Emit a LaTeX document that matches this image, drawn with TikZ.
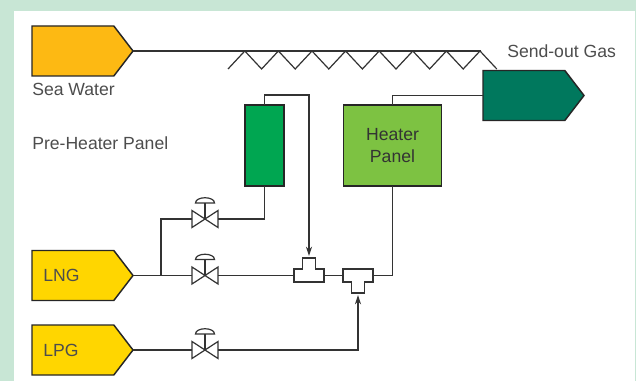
\documentclass[tikz,border=0pt]{standalone}
\usepackage{fontspec}
\setmainfont{Liberation Sans}
\usetikzlibrary{arrows.meta, positioning, shapes.symbols}
\definecolor{framegreen}{HTML}{C8E6D5}
\definecolor{seaorange}{HTML}{FDB913}
\definecolor{lngyellow}{HTML}{FFD600}
\definecolor{gasgreen}{HTML}{00785D}
\definecolor{heatgreen}{HTML}{7DC242}
\definecolor{pregreen}{HTML}{00A651}
\definecolor{inkgrey}{HTML}{333333}
\definecolor{textgrey}{HTML}{4D4D4D}
\tikzset{
    feed/.style={signal, signal to=east, signal from=nowhere, signal pointer angle=105, minimum width=75.75pt, minimum height=37.5pt, inner sep=0pt, outer sep=0pt, draw=black!85, line width=1.1pt, anchor=west},
    panel/.style={rectangle, inner sep=0pt, outer sep=0pt, minimum height=60.75pt, draw=black!85, line width=1pt},
    pipe/.style={draw=inkgrey, line width=0.9pt},
    flow/.style={pipe, -{Stealth[length=7pt, width=4.5pt]}, shorten >=1.5pt},
    caption/.style={font=\fontsize{13.2}{16.5}\selectfont, text=textgrey, inner sep=0pt, align=center},
    valve/.pic={
        \draw[pipe, fill=white] (-13,-8.5) -- (13,8.5) -- (13,-8.5) -- (-13,8.5) -- cycle;
        \draw[pipe] (0,0) -- (0,-16);
        \draw[pipe, fill=white] (-9.5,-16) .. controls (-9.5,-23) and (9.5,-23) .. (9.5,-16) -- cycle;
        \coordinate (-w) at (-13,0);
        \coordinate (-e) at (13,0);
    },
    tee/.pic={
        \draw[pipe, line width=1pt, fill=white] (-15,6.5) -- (-15,-6.5) -- (-6.5,-6.5) -- (-6.5,-17.5) -- (6.5,-17.5) -- (6.5,-6.5) -- (15,-6.5) -- (15,6.5) -- cycle;
        \coordinate (-w) at (-15,0);
        \coordinate (-e) at (15,0);
        \coordinate (-s) at (0,-17.5);
    }
}

\begin{document}
\begin{tikzpicture}[x=0.75pt, y=-0.75pt]
        % Frame
        \fill[framegreen] (0,0) rectangle (636,381);
        \fill[white] (14,11) rectangle (634.5,381);
        
        % Heat exchanger coil
        \coordinate (coilstart) at (228,69);
        \coordinate (coilend) at (481,51);
        \draw[pipe] (coilstart) \foreach \k in {0,...,7} {-- ++(16.8,-18) -- ++(16.8,18)};
        
        % Streams
        \node (sea) [feed, fill=seaorange] at (32,51) {};
        \node (gas) [feed, fill=gasgreen] at (483,95.5) {};
        \node (lng) [feed, fill=lngyellow] at (32,275.5) {};
        \node (lpg) [feed, fill=lngyellow] at (32,350) {};
        
        % Panels
        \node (pre) [panel, fill=pregreen, minimum width=29.25pt] at (264.5,145.5) {};
        \node (heater) [panel, fill=heatgreen, minimum width=73.5pt, caption, text=inkgrey] at (392.5,145.5) {Heater\\Panel};
        
        % Valves and tees
        \pic (vone) at (205,219) {valve};
        \pic (vtwo) at (205,275.5) {valve};
        \pic (vthree) at (205,350) {valve};
        \pic (teeone) at (309,275.5) {tee};
        \pic[yscale=-1] (teetwo) at (358,275.5) {tee};
        
        % Bend points
        \coordinate (prebend) at (309,95);
        \coordinate (branch) at (161,275.5);
        
        % Connections
        \draw[pipe] (sea.east) -- (coilend);
        \draw[pipe] (lng.east) -- (vtwo-w);
        \draw[pipe] (branch) |- (vone-w);
        \draw[pipe] (vone-e) -| (pre.south);
        \draw[pipe] (vtwo-e) -- (teeone-w);
        \draw[pipe] (teeone-e) -- (teetwo-w);
        \draw[pipe] (teetwo-e) -| (heater.south);
        \draw[pipe] (heater.north) |- (gas.west);
        \draw[pipe] (lpg.east) -- (vthree-w);
        \draw[flow] (pre.north) |- (prebend) -- (teeone-s);
        \draw[flow] (vthree-e) -| (teetwo-s);
        
        % Labels
        \node (sealabel) [caption, anchor=west] at (32,89) {Sea Water};
        \node (gaslabel) [caption, anchor=west] at (507,51) {Send-out Gas};
        \node (prelabel) [caption, anchor=west] at (32,143) {Pre-Heater Panel};
        \node (lnglabel) [caption, anchor=west] at (43,275) {LNG};
        \node (lpglabel) [caption, anchor=west] at (43,350) {LPG};
    \end{tikzpicture}
\end{document}
